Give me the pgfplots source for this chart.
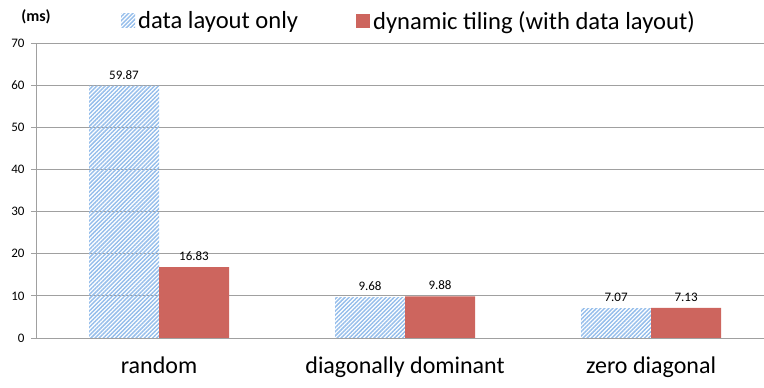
\documentclass[border=0pt]{standalone}
\usepackage{pgfplots}
\pgfplotsset{compat=1.18}
\usepackage{fontspec}
\setmainfont{Carlito}
\usetikzlibrary{patterns.meta}
\definecolor{hatchblue}{RGB}{150,190,235}
\definecolor{barred}{RGB}{205,101,94}
\definecolor{gridgray}{RGB}{160,160,160}
\tikzdeclarepattern{
  name=mystripes,
  type=uncolored,
  bounding box={(0,-1pt) and (2.9pt,1pt)},
  tile size={(2.9pt,2.9pt)},
  tile transformation={rotate=45},
  code={\draw[line width=1.45pt] (-1pt,0) -- (3.9pt,0);}
}
\begin{document}
\begin{tikzpicture}
\path[use as bounding box] (0,0) rectangle (764pt,388pt);
\begin{axis}[
  at={(36pt,50pt)}, anchor=south west,
  scale only axis, width=728pt, height=295pt,
  ybar=0pt, bar width=70pt,
  xmin=-0.5, xmax=2.459,
  ymin=0, ymax=70, ytick={0,10,...,70},
  axis x line=bottom, axis y line=left,
  axis line style={draw=gridgray, line width=0.9pt, -},
  ymajorgrids, grid style={gridgray, line width=0.9pt},
  xtick={0,1,2}, xticklabels={random, diagonally dominant, zero diagonal},
  xtick style={draw=none},
  extra x ticks={-0.5,0.5,1.5},
  extra x tick labels={},
  extra x tick style={tick style={draw=gridgray, line width=0.9pt}, major tick length=7pt, tick align=outside},
  ytick style={draw=gridgray, line width=0.9pt},
  tick align=outside, major tick length=5pt,
  xticklabel style={font=\fontsize{24}{24}\selectfont, yshift=-10pt},
  yticklabel style={font=\fontsize{13}{13}\selectfont, xshift=-3pt},
  /pgf/number format/assume math mode=true,
  nodes near coords={\pgfmathprintnumber[fixed,precision=2,fixed zerofill]{\pgfplotspointmeta}},
  nodes near coords style={font=\fontsize{13}{13}\selectfont, yshift=3pt},
  legend columns=2,
  legend style={at={(axis description cs:0.1126,1.075)}, anchor=west, draw=none, fill=none,
    font=\fontsize{24.6}{24.6}\selectfont, /tikz/column 2/.style={column sep=55pt},
    nodes={inner sep=3pt}},
  legend cell align=left,
  legend image code/.code={\path[#1] (0pt,-7pt) rectangle (14pt,7pt);},
  clip=false,
]
\addplot[draw=none, pattern={mystripes}, pattern color=hatchblue] coordinates {(0,59.87) (1,9.68) (2,7.07)};
\addplot[draw=none, fill=barred] coordinates {(0,16.83) (1,9.88) (2,7.13)};
\legend{data layout only, dynamic tiling (with data layout)}
\end{axis}
\node[font=\bfseries\fontsize{16}{16}\selectfont] at (36pt,371pt) {(ms)};
\end{tikzpicture}
\end{document}
